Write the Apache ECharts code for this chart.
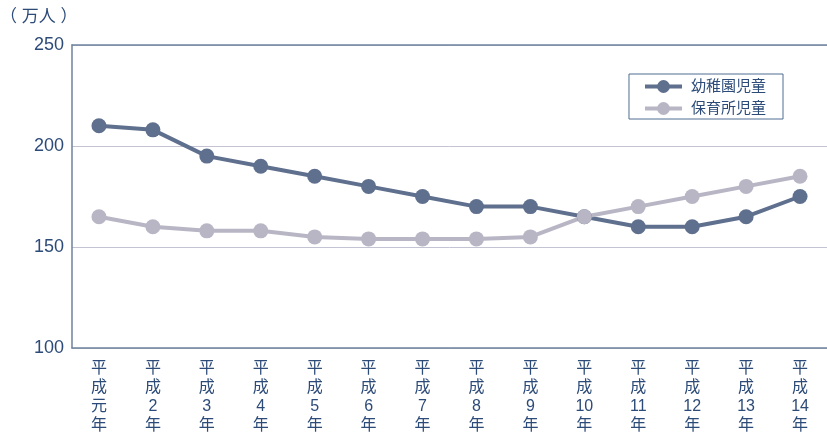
<!DOCTYPE html>
<html>
<head>
<meta charset="utf-8">
<script src="https://cdn.jsdelivr.net/npm/echarts@6/dist/echarts.min.js"></script>
<style>
  html, body { margin: 0; padding: 0; background: #fff; }
  #chart { width: 827px; height: 432px; }
</style>
</head>
<body>
<div id="chart"></div>
<script>
const years = ["平\n成\n元\n年", "平\n成\n2\n年", "平\n成\n3\n年", "平\n成\n4\n年", "平\n成\n5\n年",
  "平\n成\n6\n年", "平\n成\n7\n年", "平\n成\n8\n年", "平\n成\n9\n年", "平\n成\n10\n年",
  "平\n成\n11\n年", "平\n成\n12\n年", "平\n成\n13\n年", "平\n成\n14\n年"];
const kindergarten = [210, 208, 195, 190, 185, 180, 175, 170, 170, 165, 160, 160, 165, 175];
const nursery = [165, 160, 158, 158, 155, 154, 154, 154, 155, 165, 170, 175, 180, 185];
const yTicks = [100, 150, 200, 250];

const textColor = "#2d4b78";
const axisColor = "#6e829e";
const font = "'Liberation Sans', 'Noto Sans CJK JP', sans-serif";

const chart = echarts.init(document.getElementById("chart"));
chart.setOption({
  animation: false,
  title: {
    text: "（ 万人 ）",
    left: 0,
    top: 9,
    padding: 0,
    textStyle: { color: textColor, fontSize: 17, fontWeight: "normal", fontFamily: font },
  },
  legend: {
    right: 44,
    top: 74,
    orient: "vertical",
    itemWidth: 37,
    itemHeight: 16,
    itemGap: 7,
    padding: [5, 17, 3, 14],
    borderColor: "#4f6d92",
    borderWidth: 1,
    borderRadius: 0,
    lineStyle: { width: 4 },
    textStyle: { color: textColor, fontSize: 15, fontFamily: font, padding: [0, 0, 0, 4] },
    data: ["幼稚園児童", "保育所児童"],
  },
  grid: { left: 72, right: 0, top: 45, bottom: 84, outerBoundsMode: "none", containLabel: false },
  xAxis: [
    {
      type: "category",
      data: years,
      boundaryGap: true,
      axisLine: { lineStyle: { color: axisColor, width: 1.5 } },
      axisTick: { inside: true, length: 6, alignWithLabel: false, lineStyle: { color: axisColor } },
      axisLabel: { color: textColor, fontSize: 16, lineHeight: 19, margin: 11, fontFamily: font, interval: 0 },
    },
    {
      type: "category",
      position: "top",
      data: years,
      axisLine: { lineStyle: { color: axisColor, width: 1.5 } },
      axisTick: { show: false },
      axisLabel: { show: false },
    },
  ],
  yAxis: {
    type: "value",
    min: yTicks[0],
    max: yTicks[yTicks.length - 1],
    interval: 50,
    axisLine: { show: true, lineStyle: { color: axisColor, width: 1.5 } },
    axisTick: { show: false },
    axisLabel: { color: textColor, fontSize: 18, margin: 8, fontFamily: font },
    splitLine: { lineStyle: { color: "#c3c3d3", width: 1 } },
  },
  series: [
    {
      name: "幼稚園児童",
      type: "line",
      data: kindergarten,
      symbol: "circle",
      symbolSize: 15,
      color: "#5f6f8e",
      lineStyle: { width: 4 },
    },
    {
      name: "保育所児童",
      type: "line",
      data: nursery,
      symbol: "circle",
      symbolSize: 15,
      color: "#b8b6c5",
      lineStyle: { width: 4 },
    },
  ],
});
</script>
</body>
</html>
